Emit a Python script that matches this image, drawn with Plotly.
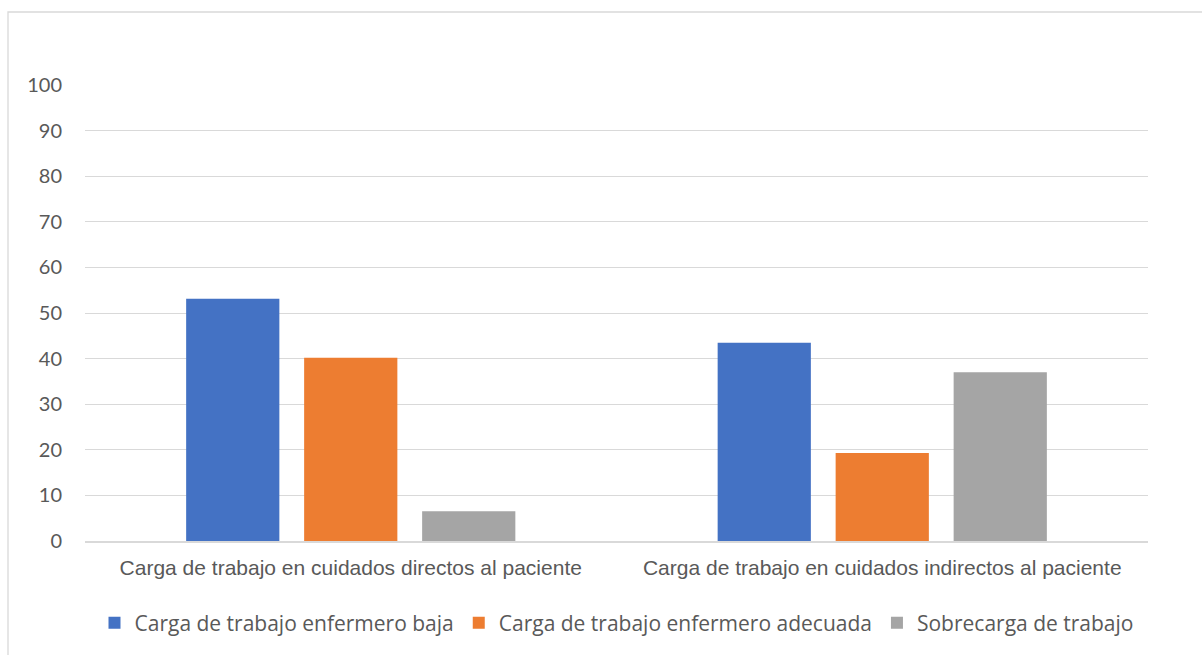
import plotly.graph_objects as go

# Categories and series values (percent)
categorias = [
    "Carga de trabajo en cuidados directos al paciente",
    "Carga de trabajo en cuidados indirectos al paciente",
]
baja = [53.1, 43.5]
adecuada = [40.2, 19.3]
sobrecarga = [6.5, 37.0]
series_nombres = [
    "Carga de trabajo enfermero baja",
    "Carga de trabajo enfermero adecuada",
    "Sobrecarga de trabajo",
]
y_ticks = [0, 10, 20, 30, 40, 50, 60, 70, 80, 90, 100]

colores = ["#4472C4", "#ED7D31", "#A5A5A5"]
gris_texto = "#595959"

fig = go.Figure()
for nombre, valores, color in zip(series_nombres, [baja, adecuada, sobrecarga], colores):
    fig.add_trace(go.Bar(
        x=categorias, y=valores, name=nombre,
        marker=dict(color=color, line=dict(width=0)),
    ))

W, H = 1202, 655
ml, mr, mt, mb = 85, 54, 85, 114
pw, ph = W - ml - mr, H - mt - mb

fig.update_layout(
    width=W, height=H,
    margin=dict(l=ml, r=mr, t=mt, b=mb, pad=0),
    paper_bgcolor="white", plot_bgcolor="white",
    barmode="group", bargap=0.334, bargroupgap=0.21,
    font=dict(family="Lato, sans-serif", size=19, color=gris_texto),
    showlegend=True,
    legend=dict(
        orientation="h", x=0.5, xanchor="center",
        y=-82 / ph, yanchor="middle",
        font=dict(family="'Open Sans', sans-serif", size=21, color=gris_texto),
        itemclick=False, itemdoubleclick=False,
        traceorder="normal",
    ),
    xaxis=dict(
        showgrid=False, showline=True, linecolor="#D9D9D9", linewidth=1.5,
        ticks="", ticklabelstandoff=7, zeroline=False,
        tickfont=dict(family="'Liberation Sans', Arial, sans-serif", size=21, color=gris_texto),
    ),
    yaxis=dict(
        range=[0, 100], tickvals=y_ticks,
        showgrid=True, gridcolor="#D9D9D9", gridwidth=1.3,
        zeroline=False, showline=False, ticks="", ticklabelstandoff=22,
        tickfont=dict(family="Lato, sans-serif", size=20, color=gris_texto),
    ),
)

# Outer chart frame
fig.add_shape(
    type="rect", xref="paper", yref="paper",
    x0=(8 - ml) / pw, x1=(W + 10 - ml) / pw,
    y0=-(H + 10 - mt - ph) / ph, y1=(mt - 12) / ph + 1,
    line=dict(color="#D9D9D9", width=1.3), fillcolor="rgba(0,0,0,0)",
    layer="below",
)

fig.write_html("out.html")
